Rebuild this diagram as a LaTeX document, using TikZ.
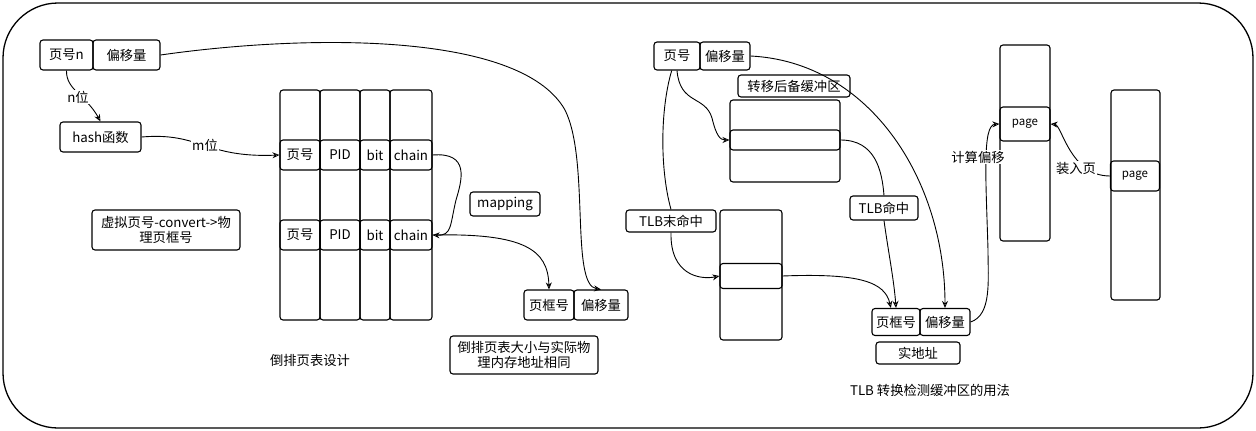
\documentclass[tikz,border=0pt]{standalone}
\usepackage{fontspec}
\setmainfont{Noto Sans CJK SC}
\usetikzlibrary{arrows.meta}
\begin{document}
\begin{tikzpicture}[x=1pt,y=-1pt,
  font=\fontsize{13.3}{16}\selectfont,
  bx/.style={draw, rounded corners=3pt, line width=1.1pt, inner sep=1pt, align=center},
  col/.style={draw, rounded corners=3pt, line width=1.1pt},
  lab/.style={fill=white, inner sep=1pt},
  conn/.style={line width=0.9pt, -{Stealth[open,length=7pt,width=6pt]}},
  plain/.style={line width=0.9pt}]
\useasboundingbox (0,0) rectangle (1256,431);
\draw[line width=1.3pt, rounded corners=55pt] (3,3) rectangle (1253,428);

% ---------- left: inverted page table ----------
\node[bx, minimum width=53pt, minimum height=30pt] (pn) at (66.5,55) {页号n};
\node[bx, minimum width=67pt, minimum height=30pt] (off1) at (126.5,55) {偏移量};
\node[bx, minimum width=81pt, minimum height=30pt] (hash) at (100.5,137) {hash函数};
\node[bx, minimum width=148pt, minimum height=40pt, font=\fontsize{13.3}{15}\selectfont] (conv) at (166,230) {虚拟页号-convert->物\\理页框号};

\draw[col] (280,90) rectangle (320,320);
\draw[col] (320,90) rectangle (360,320);
\draw[col] (360,90) rectangle (390,320);
\draw[col] (390,90) rectangle (432,320);

\node[bx, minimum width=40pt, minimum height=30pt] (r1a) at (300,155) {页号};
\node[bx, minimum width=40pt, minimum height=30pt] (r1b) at (340,155) {PID};
\node[bx, minimum width=30pt, minimum height=30pt] (r1c) at (375,155) {bit};
\node[bx, minimum width=42pt, minimum height=30pt] (r1d) at (411,155) {chain};
\node[bx, minimum width=40pt, minimum height=30pt] (r2a) at (300,235) {页号};
\node[bx, minimum width=40pt, minimum height=30pt] (r2b) at (340,235) {PID};
\node[bx, minimum width=30pt, minimum height=30pt] (r2c) at (375,235) {bit};
\node[bx, minimum width=42pt, minimum height=30pt] (r2d) at (411,235) {chain};

\node[bx, minimum width=70pt, minimum height=24pt] (map) at (505,204) {mapping};
\node[bx, minimum width=50pt, minimum height=30pt] (pf) at (549,305) {页框号};
\node[bx, minimum width=54pt, minimum height=30pt] (off2) at (601,305) {偏移量};
\node (t1) at (310,360) {倒排页表设计};
\node[bx, minimum width=148pt, minimum height=38pt, font=\fontsize{13.3}{15}\selectfont] (note) at (524,355) {倒排页表大小与实际物\\理内存地址相同};

\draw[conn] (pn.south) .. controls (66,90) and (86,95) .. (hash.north);
\node[lab] (nb) at (78,97) {n位};
\draw[conn] (hash.east) .. controls (200,132) and (205,158) .. (r1a.west);
\node[lab] (mb) at (205,145) {m位};
\draw[conn] (r1d.east) .. controls (470,152) and (462,180) .. (456,200)
  .. controls (450,225) and (452,236) .. (r2d.east);
\draw[conn] (r2d.east) .. controls (525,233) and (548,250) .. (pf.north);
\draw[conn] (off1.east) .. controls (300,35) and (520,30) .. (565,110)
  .. controls (590,160) and (570,285) .. (off2.north);

% ---------- right: TLB ----------
\node[bx, minimum width=46pt, minimum height=28pt] (p2) at (677,56) {页号};
\node[bx, minimum width=50pt, minimum height=28pt] (off3) at (725,56) {偏移量};
\node[bx, minimum width=112pt, minimum height=22pt] (tlbl) at (794,86) {转移后备缓冲区};
\draw[col] (730,100) rectangle (840,182);
\node[bx, minimum width=110pt, minimum height=20pt] (tlbrow) at (785,140) {};
\node[bx, minimum width=90pt, minimum height=22pt] (miss) at (671,221) {TLB末命中};
\draw[col] (720,210) rectangle (782,340);
\node[bx, minimum width=62pt, minimum height=25pt] (ptrow) at (751,276) {};
\node[bx, minimum width=68pt, minimum height=24pt] (hit) at (884,208) {TLB命中};
\node[bx, minimum width=48pt, minimum height=27pt] (pf2) at (896,322) {页框号};
\node[bx, minimum width=50pt, minimum height=27pt] (off4) at (945,322) {偏移量};
\node[bx, minimum width=84pt, minimum height=22pt] (real) at (918,353) {实地址};
\node (t2) at (930,390) {TLB 转换检测缓冲区的用法};

\draw[col] (1000,45) rectangle (1050,241);
\node[bx, minimum width=50pt, minimum height=34pt, font=\fontsize{11.5}{13}\selectfont] (pg1) at (1025,124) {page};
\draw[col] (1111,90) rectangle (1160,300);
\node[bx, minimum width=49pt, minimum height=30pt, font=\fontsize{11.5}{13}\selectfont] (pg2) at (1135,176) {page};

\draw[conn] (p2.south) .. controls (680,105) and (705,95) .. (712,118)
  .. controls (716,135) and (720,140) .. (tlbrow.west);
\draw[plain] (p2.250) .. controls (660,110) and (660,170) .. (miss.north);
\draw[conn] (miss.south) .. controls (670,275) and (700,280) .. (ptrow.west);
\draw[plain] (tlbrow.east) .. controls (875,140) and (882,170) .. (hit.north);
\draw[conn] (hit.south) .. controls (888,250) and (894,280) .. (pf2.north);
\draw[conn] (ptrow.east) .. controls (860,273) and (885,282) .. (pf2.110);
\draw[conn] (off3.east) .. controls (870,62) and (945,180) .. (off4.north);
\draw[conn] (off4.east) .. controls (992,315) and (988,280) .. (988,250)
  .. controls (986,180) and (982,125) .. (pg1.west);
\draw[conn] (pg2.west) .. controls (1070,176) and (1062,125) .. (pg1.east);
\node[lab] (calc) at (978,157) {计算偏移};
\node[lab] (load) at (1076,168) {装入页};
\end{tikzpicture}
\end{document}
